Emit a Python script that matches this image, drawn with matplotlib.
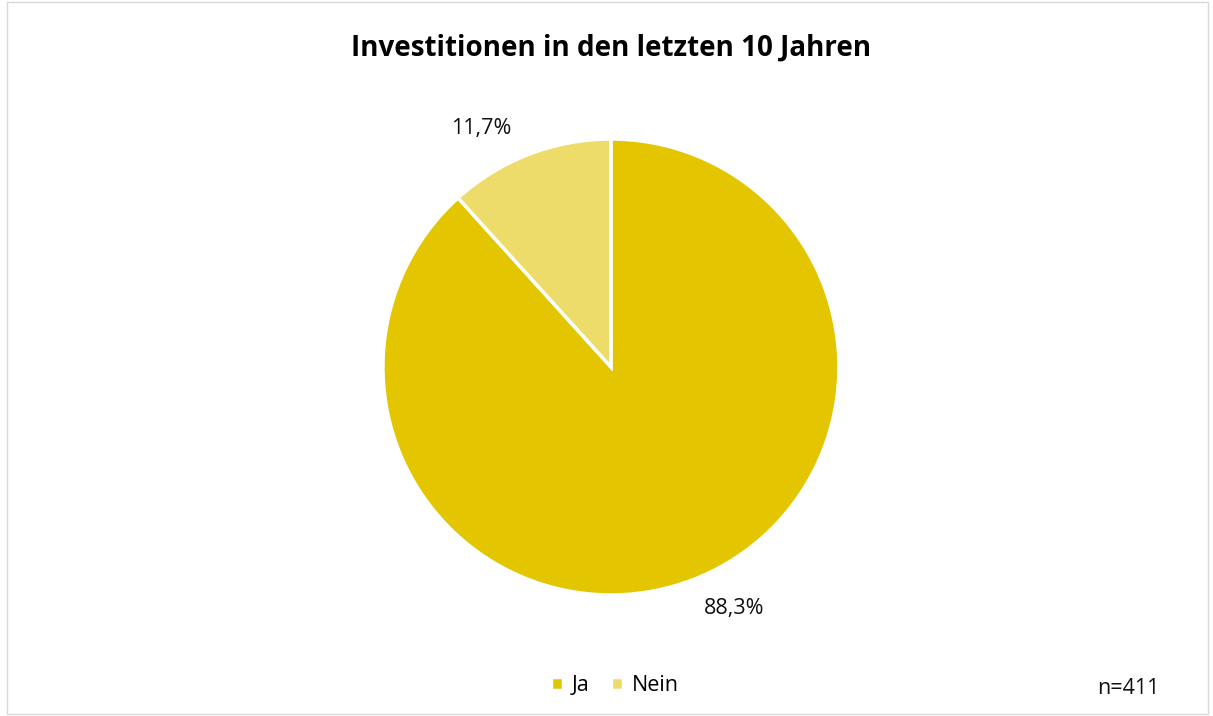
import numpy as np
import matplotlib.pyplot as plt
from matplotlib.patches import Rectangle

# Daten
kategorien = ['Ja', 'Nein']
anteile = [88.3, 11.7]
farben = ['#E3C500', '#EEDC6A']
titel = 'Investitionen in den letzten 10 Jahren'
n_text = 'n=411'

plt.rcParams['font.family'] = ['Open Sans', 'DejaVu Sans']

fig = plt.figure(figsize=(12.13, 7.16), dpi=100)
# Rahmen um das Diagramm
fig.patches.append(Rectangle((0.006, 0.003), 0.99, 0.994, transform=fig.transFigure,
                             fill=False, edgecolor='#D9D9D9', linewidth=1))

ax = fig.add_axes([0.3157, 0.169, 0.3759, 0.6369])
wedges, _ = ax.pie(anteile, colors=farben, startangle=90, counterclock=False,
                   radius=1.0, wedgeprops=dict(edgecolor='white', linewidth=2.5))
ax.set_xlim(-1, 1)
ax.set_ylim(-1, 1)
ax.set_aspect('equal')
ax.axis('off')

# Datenbeschriftungen (leicht versetzt wie im Original)
versatz = [6, 7.5]
for w, wert, dv in zip(wedges, anteile, versatz):
    mitte = np.deg2rad((w.theta1 + w.theta2) / 2 + dv)
    ax.text(1.19 * np.cos(mitte), 1.19 * np.sin(mitte), f'{wert:.1f}%'.replace('.', ','),
            ha='center', va='center', fontsize=15.5, color='#111111')

fig.text(0.504, 0.933, titel, ha='center', va='center', fontsize=20, fontweight='bold')

leg = fig.legend(wedges, kategorien, loc='center', bbox_to_anchor=(0.507, 0.042), ncol=2,
                 frameon=False, fontsize=15.5, handlelength=0.55, handleheight=0.55,
                 handletextpad=0.4, columnspacing=1.0)

fig.text(0.93, 0.039, n_text, ha='center', va='center', fontsize=15.5, color='#111111')

fig.savefig('out.png', dpi=100)
